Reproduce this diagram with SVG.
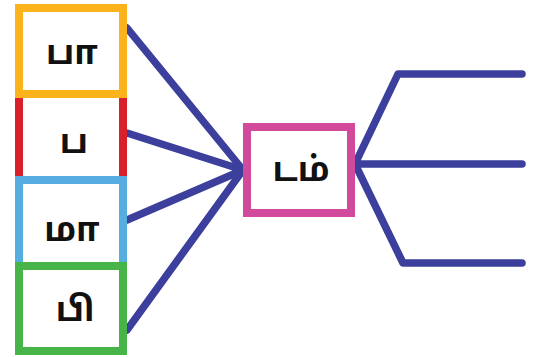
<svg xmlns="http://www.w3.org/2000/svg" width="533" height="357" viewBox="0 0 533 357">
<style>
.box{fill:#fff;stroke-width:8}
.lbl{font-family:"Noto Sans Tamil","Lohit Tamil","Latha","Noto Sans","DejaVu Sans",sans-serif;font-size:34px;font-weight:bold;fill:#111;text-anchor:middle}
.con{fill:none;stroke:#3c3f9c;stroke-width:7.5;stroke-linecap:round;stroke-linejoin:round}
</style>
<rect width="533" height="357" fill="#fff"/>
<g id="connectors">
<path class="con" d="M127 28 L243 170 M127 133 L243 170 M127 220 L243 170 M127 330 L243 170"/>
<path class="con" d="M355 164 L398 74 L522 74 M355 164 L522 164 M355 164 L403 263 L522 263"/>
</g>
<g id="node-pa"><rect class="box" x="19" y="94" width="104" height="86" stroke="#d9202a"/><text class="lbl" x="74" y="153">ப</text></g>
<g id="node-paa"><rect class="box" x="19" y="8" width="104" height="86" stroke="#fbb21b"/><text class="lbl" x="72" y="64">பா</text></g>
<g id="node-maa"><rect class="box" x="19" y="180" width="104" height="86" stroke="#56ade1"/><text class="lbl" x="72" y="241">மா</text></g>
<g id="node-pi"><rect class="box" x="19" y="266" width="104" height="85" stroke="#47b44a"/><text class="lbl" x="75" y="321">பி</text></g>
<g id="node-tam"><rect class="box" x="247" y="127" width="104" height="86" stroke="#d24a9c"/><text class="lbl" x="301" y="181" font-size="37">டம்</text></g>
</svg>
